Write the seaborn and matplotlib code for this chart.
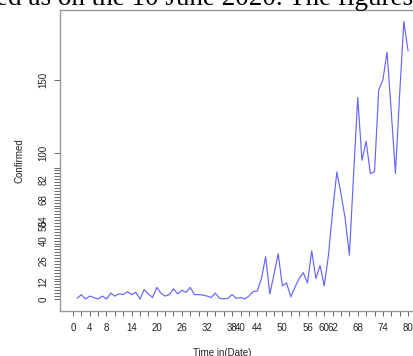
import numpy as np
import pandas as pd
import matplotlib
matplotlib.use("Agg")
import matplotlib.pyplot as plt
import seaborn as sns

# ---- data ----
days = list(range(1, 81))
confirmed = [0.5, 3, 0, 2, 1, 0, 2, 0, 4, 2,
             3.5, 3, 5, 3, 4.5, 0, 6.5, 3.5, 1, 8,
             4, 2, 3, 7, 3.5, 6, 4.5, 8, 3, 3,
             2.7, 2, 1, 4, 0.5, 0, 0.5, 3, 0.5, 1,
             0, 2, 5, 5.5, 14, 29, 3.5, 17, 31, 9,
             11, 1.5, 8, 14, 18, 11, 33, 14, 23, 9,
             30, 60, 87, 72, 55, 30, 85, 138, 95, 108,
             86, 87, 143, 150, 169, 128, 86, 140, 190, 170]
x_tick_pos = list(range(0, 81, 2))
x_tick_labels = [0, 4, 8, 14, 20, 26, 32, 38, 40, 44, 50, 56, 60, 62, 68, 74, 80]
y_tick_pos = sorted(set(list(range(0, 91, 2)) + [50, 100, 150]))
y_tick_labels = [0, 12, 26, 40, 50, 54, 68, 82, 100, 150]
caption = "ed as on the 10 June 2020. The figures"

df = pd.DataFrame({"Time": days, "Confirmed": confirmed})

sns.set_style("white")
plt.rcParams["font.family"] = ["Liberation Sans", "DejaVu Sans"]

W, H = 413, 356
fig = plt.figure(figsize=(W / 100, H / 100), dpi=100)
ax = fig.add_axes([60 / W, 45 / H, 361 / W, 301 / H])

sns.lineplot(data=df, x="Time", y="Confirmed", ax=ax,
             color="#4a4aff", linewidth=0.85, alpha=0.85)

ax.set_xlim(-3.10, 83.1)
ax.set_ylim(-8.22, 197.9)

ax.set_xticks(x_tick_pos)
ax.set_xticklabels([str(v) if v in x_tick_labels else "" for v in x_tick_pos])
ax.set_yticks(y_tick_pos)
ax.set_yticklabels([str(v) if v in y_tick_labels else "" for v in y_tick_pos])

ax.tick_params(axis="x", direction="out", length=3.4, width=0.7, color="#666666",
               labelsize=7, labelcolor="#222222", pad=5, bottom=True)
ax.tick_params(axis="y", direction="out", length=4.3, width=0.7, color="#666666",
               labelsize=7, labelcolor="#222222", pad=4, left=True)
for lab in ax.get_yticklabels():
    lab.set_rotation(90)
    lab.set_va("center")

for side in ["left", "bottom", "top"]:
    ax.spines[side].set_visible(True)
    ax.spines[side].set_color("#999999")
    ax.spines[side].set_linewidth(1.0)
ax.spines["right"].set_visible(False)

ax.set_xlabel("Time in(Date)", fontsize=7, color="#222222")
ax.set_ylabel("Confirmed", fontsize=7, color="#222222")
ax.xaxis.set_label_coords((222 - 60) / 361, (311 - 348) / 301)
ax.yaxis.set_label_coords((25 - 60) / 361, 0.5)
ax.xaxis.label.set_va("top")

fig.text(-4 / W, 1 - 5 / H, caption, fontsize=19.5, family="Liberation Serif",
         color="black", ha="left", va="baseline")

fig.savefig("out.png", dpi=100)
